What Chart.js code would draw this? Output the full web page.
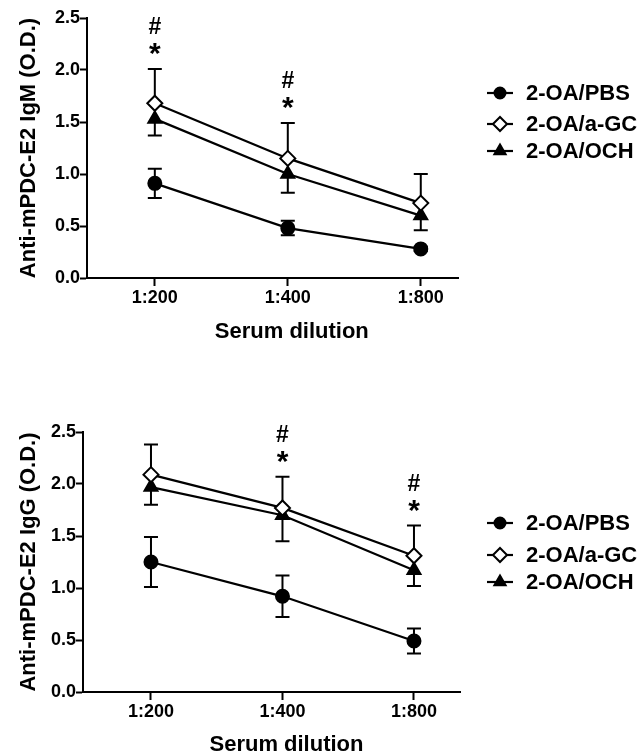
<!DOCTYPE html>
<html><head><meta charset="utf-8">
<script src="https://cdn.jsdelivr.net/npm/chart.js@4"></script>
<style>
html,body{margin:0;padding:0;background:#fff;width:639px;height:755px;overflow:hidden}
.w{position:absolute;left:0;width:639px}
</style></head><body>
<div class="w" style="top:0;height:360px"><canvas id="c1"></canvas></div>
<div class="w" style="top:390px;height:365px"><canvas id="c2"></canvas></div>
<script>
// ---- data ----
const categories = ['1:200', '1:400', '1:800'];
const seriesNames = ['2-OA/PBS', '2-OA/a-GC', '2-OA/OCH'];
const yTicks = [0, 0.5, 1.0, 1.5, 2.0, 2.5];

const igmPBS = [0.91, 0.48, 0.28];
const igmPBSErr = [0.14, 0.07, 0.02];
const igmAGC = [1.68, 1.15, 0.72];
const igmAGCErr = [0.33, 0.34, 0.28];
const igmOCH = [1.53, 1.00, 0.60];
const igmOCHErr = [0.16, 0.18, 0.14];
const igmSig = [0, 1];

const iggPBS = [1.25, 0.92, 0.49];
const iggPBSErr = [0.24, 0.20, 0.12];
const iggAGC = [2.09, 1.77, 1.31];
const iggAGCErr = [0.29, 0.30, 0.29];
const iggOCH = [1.97, 1.70, 1.17];
const iggOCHErr = [0.17, 0.25, 0.15];
const iggSig = [1, 2];

// error bar direction per series: 0 both, 1 up, -1 down
const errDir = [0, 1, -1];

const FONT = '"Liberation Sans", Arial, Helvetica, sans-serif';
Chart.defaults.font.family = FONT;
Chart.defaults.color = '#000';

const styles = [
  {pointStyle: 'circle', pointRadius: 6.5, legendRadius: 5.5, bg: '#000'},
  {pointStyle: 'rectRot', pointRadius: 7.5, legendRadius: 7, bg: '#fff'},
  {pointStyle: 'triangle', pointRadius: 7.5, legendRadius: 6.5, bg: '#000'}
];

function drawMarker(ctx, st, x, y) {
  ctx.save();
  ctx.fillStyle = st.bg; ctx.strokeStyle = '#000'; ctx.lineWidth = 2;
  if (Chart.helpers && Chart.helpers.drawPoint) {
    Chart.helpers.drawPoint(ctx, {pointStyle: st.pointStyle, radius: st.legendRadius, borderWidth: 2, rotation: 0}, x, y);
  }
  ctx.restore();
}

function build(id, vals, errs, sig, yTitle, g) {
  const datasets = vals.map((arr, d) => ({
    label: seriesNames[d],
    data: arr.map((v, i) => ({x: i, y: v})),
    borderColor: '#000',
    borderWidth: 2.2,
    tension: 0,
    fill: false,
    pointStyle: styles[d].pointStyle,
    pointRadius: styles[d].pointRadius,
    pointHoverRadius: styles[d].pointRadius,
    pointBackgroundColor: styles[d].bg,
    pointBorderColor: '#000',
    pointBorderWidth: 2
  }));

  const errorBars = {
    id: 'errorBars',
    beforeDatasetsDraw(chart) {
      const ctx = chart.ctx, xs = chart.scales.x, ys = chart.scales.y;
      ctx.save();
      ctx.strokeStyle = '#000'; ctx.lineWidth = 2;
      vals.forEach((arr, d) => {
        arr.forEach((v, i) => {
          const e = errs[d][i];
          const px = xs.getPixelForValue(i);
          const py = ys.getPixelForValue(v);
          const ends = [];
          if (errDir[d] >= 0) ends.push(ys.getPixelForValue(v + e));
          if (errDir[d] <= 0) ends.push(ys.getPixelForValue(v - e));
          ends.forEach(pe => {
            ctx.beginPath();
            ctx.moveTo(px, py); ctx.lineTo(px, pe);
            ctx.moveTo(px - 7, pe); ctx.lineTo(px + 7, pe);
            ctx.stroke();
          });
        });
      });
      ctx.restore();
    }
  };

  const extras = {
    id: 'extras',
    afterDraw(chart) {
      const ctx = chart.ctx, xs = chart.scales.x, ys = chart.scales.y;
      ctx.save();
      ctx.fillStyle = '#000';
      ctx.textAlign = 'center';
      ctx.textBaseline = 'middle';
      // significance marks
      sig.forEach(i => {
        let top = 0;
        vals.forEach((arr, d) => {
          const t = arr[i] + (errDir[d] >= 0 ? errs[d][i] : 0);
          if (t > top) top = t;
        });
        const py = ys.getPixelForValue(top);
        const px = xs.getPixelForValue(i);
        ctx.font = 'bold 30px ' + FONT;
        ctx.fillText('*', px, py - 21 + 7);
        ctx.font = 'bold 23px ' + FONT;
        ctx.fillText('#', px, py - 41);
      });
      // x-axis title
      ctx.font = 'bold 22px ' + FONT;
      ctx.fillText('Serum dilution', xs.getPixelForValue(1) + 4, g.xTitleY);
      // legend
      seriesNames.forEach((name, d) => {
        const y = g.legendY[d];
        ctx.strokeStyle = '#000'; ctx.lineWidth = 2.2;
        ctx.beginPath(); ctx.moveTo(487, y); ctx.lineTo(513, y); ctx.stroke();
        drawMarker(ctx, styles[d], 500, y);
        ctx.fillStyle = '#000';
        ctx.textAlign = 'left';
        ctx.font = 'bold 22px ' + FONT;
        ctx.fillText(name, 526, y + 1);
      });
      ctx.restore();
    }
  };

  const tickFont = {size: 18, weight: 'bold', family: FONT};
  return new Chart(document.getElementById(id), {
    type: 'line',
    data: {datasets},
    plugins: [errorBars, extras],
    options: {
      responsive: true,
      maintainAspectRatio: false,
      animation: false,
      events: [],
      layout: {padding: {left: 0, right: g.padR, top: g.padT, bottom: 0}},
      plugins: {legend: {display: false}, tooltip: {enabled: false}},
      scales: {
        x: {
          type: 'linear', min: g.xmin, max: g.xmax,
          afterBuildTicks: s => { s.ticks = categories.map((c, i) => ({value: i})); },
          afterFit: s => { s.height = g.xH; },
          ticks: {callback: v => categories[v], font: tickFont, color: '#000', padding: 1, maxRotation: 0, autoSkip: false},
          grid: {display: true, drawOnChartArea: false, drawTicks: true, tickLength: 8, tickWidth: 2, tickColor: '#000'},
          border: {display: true, color: '#000', width: 2}
        },
        y: {
          min: 0, max: 2.5,
          afterBuildTicks: s => { s.ticks = yTicks.map(v => ({value: v})); },
          afterFit: s => { s.width = g.yW; },
          ticks: {callback: v => Number(v).toFixed(1), font: tickFont, color: '#000', padding: 0},
          title: {display: true, text: yTitle, color: '#000', font: {size: 22, weight: 'bold', family: FONT}, padding: {top: 16, bottom: 0}},
          grid: {display: true, drawOnChartArea: false, drawTicks: true, tickLength: 7, tickWidth: 2, tickColor: '#000'},
          border: {display: true, color: '#000', width: 2}
        }
      }
    }
  });
}

build('c1', [igmPBS, igmAGC, igmOCH], [igmPBSErr, igmAGCErr, igmOCHErr], igmSig,
  'Anti-mPDC-E2 IgM (O.D.)',
  {padR: 181, padT: 18, xH: 82, yW: 87, xmin: -0.51, xmax: 2.28, xTitleY: 332, legendY: [93, 124, 151]});

build('c2', [iggPBS, iggAGC, iggOCH], [iggPBSErr, iggAGCErr, iggOCHErr], iggSig,
  'Anti-mPDC-E2 IgG (O.D.)',
  {padR: 179, padT: 42, xH: 63, yW: 83, xmin: -0.517, xmax: 2.35, xTitleY: 355, legendY: [133, 165, 192]});
</script>
</body></html>
